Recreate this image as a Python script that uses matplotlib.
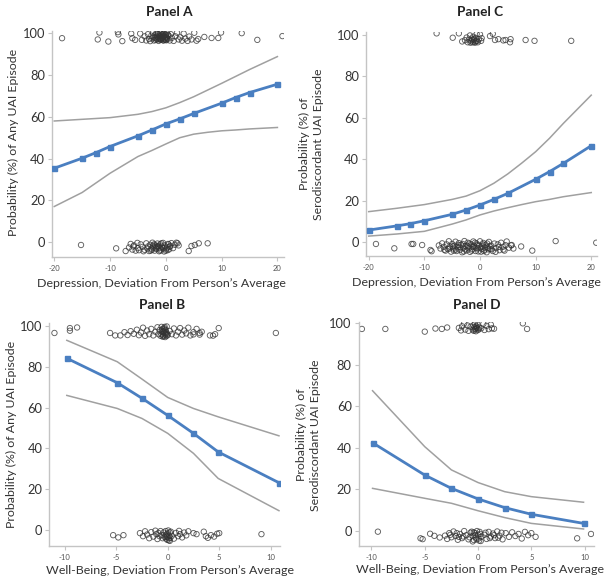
import matplotlib
matplotlib.use("Agg")
import matplotlib.pyplot as plt

plt.rcParams['font.family'] = ['Lato', 'DejaVu Sans']

# ---------------- data ----------------
# Panel A: depression -> any UAI
A_x = [-20, -15, -12.5, -10, -5, -2.5, 0, 2.5, 5, 10, 12.5, 15, 20]
A_y = [35.4, 40.2, 42.9, 45.8, 50.9, 53.7, 56.6, 59.0, 61.6, 66.5, 69.2, 71.6, 75.6]
A_ci_x = [-20, -15, -10, -5, -2.5, 0, 2.5, 5, 7.5, 10, 12.5, 15, 20]
A_up = [58.0, 58.8, 59.6, 61.2, 62.5, 64.3, 66.8, 69.6, 72.8, 76.0, 79.3, 82.6, 88.8]
A_lo = [17.1, 23.8, 33.0, 41.0, 43.9, 47.0, 50.0, 51.7, 52.6, 53.3, 53.7, 54.2, 54.9]

# Panel C: depression -> serodiscordant UAI
C_x = [-20, -15, -12.5, -10, -5, -2.5, 0, 2.5, 5, 10, 12.5, 15, 20]
C_y = [5.9, 7.9, 9.0, 10.4, 13.5, 15.6, 18.0, 20.7, 23.6, 30.4, 34.1, 38.1, 46.6]
C_ci_x = [-20, -15, -10, -5, -2.5, 0, 2.5, 5, 7.5, 10, 12.5, 15, 17.5, 20]
C_up = [14.8, 16.4, 18.2, 20.7, 22.3, 24.9, 28.5, 33.0, 38.2, 43.7, 50.2, 57.4, 64.2, 71.0]
C_lo = [3.0, 4.0, 5.3, 8.8, 10.8, 13.2, 15.1, 16.7, 18.2, 19.6, 20.7, 22.0, 23.0, 24.0]

# Panel B: well-being -> any UAI
B_x = [-9.8, -4.9, -2.5, 0, 2.5, 4.9, 10.8]
B_y = [84.2, 72.2, 64.6, 56.2, 47.4, 38.3, 23.2]
B_up = [93.0, 82.5, 74.0, 65.0, 59.6, 55.5, 46.2]
B_lo = [66.0, 59.6, 54.7, 47.4, 37.6, 25.3, 9.5]

# Panel D: well-being -> serodiscordant UAI
D_x = [-9.9, -5, -2.5, 0, 2.5, 5, 9.9]
D_y = [42.4, 26.8, 20.4, 15.3, 11.1, 7.9, 3.5]
D_up = [67.5, 40.5, 29.3, 23.2, 18.8, 16.4, 13.7]
D_lo = [20.4, 15.6, 13.2, 9.6, 6.3, 3.5, 0.8]

# jittered raw observations (x, y)
A_top = [(-18.6, 97.6), (-12.2, 97.0), (-11.9, 100.3), (-10.3, 96.0), (-8.6, 100.5), (-8.5, 99.4),
         (-7.8, 96.2), (-6.2, 99.8), (-6.0, 97.6), (-5.5, 96.8), (-4.6, 99.8), (-4.3, 96.8),
         (-3.8, 98.5), (-3.5, 96.5), (-3.2, 99.5), (-3.0, 97.2), (-2.8, 96.2), (-2.6, 98.8),
         (-2.4, 97.5), (-2.3, 100.2), (-2.2, 98.2), (-2.1, 96.5), (-2.0, 99.0), (-1.9, 97.8),
         (-1.8, 96.8), (-1.7, 100.0), (-1.6, 98.2), (-1.5, 97.0), (-1.5, 99.8), (-1.4, 99.5),
         (-1.3, 96.3), (-1.2, 98.8), (-1.1, 97.6), (-1.0, 100.3), (-1.0, 97.0), (-0.9, 96.8),
         (-0.8, 99.0), (-0.7, 98.0), (-0.6, 97.2), (-0.6, 98.8), (-0.5, 99.8), (-0.4, 96.5),
         (-0.3, 98.5), (-0.2, 97.5), (-0.1, 99.2), (0.0, 96.8), (0.0, 99.4), (0.1, 98.0),
         (0.2, 100.0), (0.3, 97.2), (0.5, 98.8), (0.7, 96.5), (0.9, 99.5), (1.1, 97.8),
         (1.4, 96.3), (1.7, 98.5), (2.0, 100.2), (2.3, 97.0), (2.6, 98.0), (2.9, 96.4),
         (3.2, 99.8), (3.5, 97.4), (3.9, 96.3), (4.2, 98.4), (4.6, 97.0), (5.1, 100.2),
         (5.5, 96.4), (5.8, 97.2), (-1.4, 98.0), (-1.2, 97.2), (-1.0, 98.6), (-0.8, 97.6),
         (-0.6, 99.5), (-0.4, 98.2), (-0.2, 96.9), (0.0, 98.4), (0.2, 97.6), (0.4, 99.2),
         (-0.9, 99.9), (-0.3, 99.9), (-1.7, 97.4), (-0.5, 96.6), (0.1, 96.6),
         (6.9, 98.2), (8.2, 97.7), (9.4, 97.7), (9.9, 100.3), (13.6, 100.0), (16.4, 96.8), (20.9, 98.6)]

A_bot = [(-15.2, -1.3), (-8.9, -2.9), (-7.2, -4.2),
         (-6.6, -2.5), (-6.3, -0.8), (-6.0, -3.5), (-5.8, -2.0), (-5.7, -1.5), (-5.4, -4.0),
         (-5.1, -0.3), (-5.0, -2.8), (-4.8, -3.8), (-4.5, -1.0), (-4.2, -2.2), (-4.0, -4.3),
         (-3.8, -3.6), (-3.5, -0.5), (-3.3, -3.0), (-3.2, -2.0), (-3.0, -4.2), (-2.8, -1.2),
         (-2.7, -4.0), (-2.6, -3.0), (-2.4, -0.2), (-2.2, -2.5), (-2.1, -1.0), (-2.0, -4.0),
         (-1.9, -1.5), (-1.7, -3.2), (-1.6, -2.0), (-1.5, -0.6), (-1.4, -2.2), (-1.2, -4.3),
         (-1.1, -2.7), (-1.0, -1.0), (-0.9, -3.5), (-0.8, -0.5), (-0.7, -2.0), (-0.5, -0.3),
         (-0.4, -3.0), (-0.3, -4.4), (-0.2, -1.5), (0.0, -4.0), (0.1, -3.0), (0.2, -2.4),
         (0.4, -0.8), (0.5, -1.0), (0.6, -3.4), (0.8, -1.8), (1.0, -0.4), (1.3, -2.8),
         (1.6, -1.2), (1.9, -0.2), (2.1, -0.5), (2.3, -1.5), (-2.5, -3.6), (-1.8, -2.6),
         (-1.3, -1.8), (-0.6, -2.6), (0.3, -3.8), (-2.3, -1.6), (-1.0, -4.0), (0.7, -2.2),
         (4.1, -4.2), (4.6, -1.8), (5.2, -1.3), (5.9, -0.5), (7.5, -0.5)]

C_top = [(-7.8, 100.8), (-4.9, 98.7), (-3.8, 100.8), (-3.2, 96.9),
         (-2.7, 97.5), (-2.4, 98.8), (-2.2, 96.5), (-2.0, 97.8), (-1.8, 99.8), (-1.7, 96.3),
         (-1.6, 97.0), (-1.5, 98.3), (-1.3, 96.5), (-1.2, 99.2), (-1.1, 98.0), (-1.0, 97.6),
         (-0.9, 96.3), (-0.8, 98.6), (-0.7, 97.0), (-0.6, 100.5), (-0.5, 97.2), (-0.4, 96.5),
         (-0.2, 98.0), (0.0, 100.3), (0.2, 97.2), (0.3, 98.5), (-1.4, 97.6), (-1.0, 96.8),
         (1.8, 99.5), (2.3, 100.6), (2.7, 97.6), (3.3, 98.0), (4.2, 97.4), (4.6, 97.6),
         (5.4, 96.5), (5.5, 98.0), (8.2, 97.6), (9.8, 97.2), (16.4, 97.2)]

C_bot = [(-18.7, -0.8), (-15.4, -2.9), (-12.3, -0.8), (-12.0, -0.8), (-10.4, -1.3),
         (-8.9, -3.7), (-8.7, -4.3),
         (-7.4, -1.5), (-7.1, -3.0), (-6.8, -0.5), (-6.5, -2.2), (-6.2, -4.0), (-6.0, -1.0),
         (-5.8, -3.2), (-5.6, 0.5), (-5.4, -2.0), (-5.2, -4.5), (-5.0, -0.8), (-4.8, -3.0),
         (-4.6, -1.6), (-4.4, 0.3), (-4.2, -4.2), (-4.0, -2.4), (-3.8, -0.4), (-3.6, -3.6),
         (-3.4, -1.2), (-3.2, -4.8), (-3.0, -2.6), (-2.8, 0.6), (-2.6, -1.8), (-2.4, -3.9),
         (-2.2, -0.2), (-2.0, -2.9), (-1.8, -4.6), (-1.6, -1.0), (-1.4, -3.3), (-1.2, 0.4),
         (-1.0, -2.2), (-0.8, -4.2), (-0.6, -0.6), (-0.4, -3.0), (-0.2, -1.5), (0.0, 0.5),
         (0.2, -4.5), (0.4, -2.0), (0.6, -0.3), (0.8, -3.6), (1.0, -1.2), (1.2, -4.8),
         (1.4, -2.6), (1.6, 0.2), (1.8, -3.2), (2.0, -1.6), (2.3, -4.2), (2.6, -0.6),
         (2.9, -2.8), (3.2, -1.0), (3.5, -3.8), (3.8, -0.2), (4.1, -2.2), (4.4, -4.0),
         (4.8, 0.4), (5.2, -2.6), (5.6, -1.5), (6.0, -3.0),
         (-5.5, -3.0), (-4.9, -2.0), (-4.3, -3.5), (-3.7, -2.2), (-3.1, -0.8), (-2.7, -3.4),
         (-2.3, -1.6), (-1.9, -0.6), (-1.5, -4.0), (-1.1, -1.6), (-0.7, -2.8), (-0.3, -4.4),
         (0.1, -2.6), (0.5, -1.0), (0.9, -2.4), (1.3, -0.6), (1.7, -1.8), (2.1, -3.4),
         (-2.9, -4.4), (-1.3, -2.2), (-0.5, -1.4), (0.3, -3.2), (-3.9, -1.2), (-4.7, -4.0),
         (-2.1, -2.0), (-0.9, -0.2), (0.7, -4.2), (1.5, -3.4), (-6.4, -3.6), (2.8, -4.6),
         (3.4, -2.2), (4.6, -1.4),
         (4.2, -3.5), (5.7, -1.3), (7.4, -2.0), (9.4, -4.0), (13.6, 0.6), (20.9, -0.2)]

B_top = [(-11.0, 96.6), (-9.5, 99.0), (-9.5, 97.7), (-8.8, 99.3), (-5.6, 96.6), (-5.1, 95.4),
         (-4.6, 95.4),
         (-4.2, 97.0), (-3.9, 95.6), (-3.6, 97.5), (-3.3, 96.2), (-3.0, 98.2), (-2.8, 95.5),
         (-2.6, 96.8), (-2.4, 99.2), (-2.2, 95.2), (-2.0, 97.8), (-1.8, 96.0), (-1.6, 98.6),
         (-1.4, 95.4), (-1.2, 97.2), (-1.0, 99.4), (-0.9, 96.0), (-0.8, 98.0), (-0.7, 95.2),
         (-0.6, 99.6), (-0.5, 97.0), (-0.4, 95.0), (-0.3, 98.4), (-0.2, 96.4), (-0.1, 99.8),
         (0.0, 95.6), (0.2, 97.6), (0.4, 96.0), (0.6, 98.8), (0.8, 95.4), (1.0, 97.2),
         (1.2, 99.0), (1.4, 95.8), (1.6, 97.8), (1.8, 96.4), (2.0, 99.2), (2.2, 95.4),
         (2.5, 97.0), (2.8, 98.6), (3.1, 95.8), (3.3, 97.2),
         (-0.6, 96.0), (-0.5, 98.5), (-0.45, 95.5), (-0.4, 97.5), (-0.35, 99.0), (-0.3, 96.5),
         (-0.25, 94.6), (-0.2, 98.0), (-0.15, 97.0), (-0.1, 95.2), (-0.3, 99.6), (-0.5, 94.8),
         (-0.05, 96.2), (-0.4, 96.8), (-0.2, 95.8), (-0.55, 97.8),
         (2.5, 95.9), (3.1, 96.6), (4.1, 95.4), (4.4, 95.3), (4.6, 96.0), (4.95, 99.0), (10.5, 96.6)]

B_bot = [(-5.3, -2.5), (-4.8, -3.6), (-4.3, -2.5),
         (-2.7, -1.5), (-2.4, -3.0), (-2.2, -0.6), (-2.0, -2.2), (-1.8, -4.0), (-1.6, -1.0),
         (-1.4, -3.2), (-1.2, -0.3), (-1.1, -2.0), (-1.0, -4.4), (-0.9, -1.4), (-0.8, -3.0),
         (-0.7, -0.5), (-0.6, -2.4), (-0.5, -4.0), (-0.4, -1.2), (-0.3, -3.4), (0.3, -0.8),
         (0.4, -2.8), (0.6, -4.2), (0.8, -1.4), (1.0, -3.0), (1.1, -0.4), (1.2, -2.0),
         (1.4, -3.6), (1.6, -1.2), (1.8, -2.6), (2.0, -0.6),
         (-0.2, -0.5), (-0.1, -2.0), (0.0, -3.5), (0.1, -5.0), (0.2, -1.2), (-0.15, -4.2),
         (0.05, -0.2), (0.15, -2.8), (-0.05, -4.8), (0.25, -3.8), (-0.2, -2.6), (0.0, -1.5),
         (0.1, -4.0), (-0.1, -3.2), (0.2, -5.3),
         (2.5, -1.5), (2.8, -2.0), (3.5, -0.8), (3.7, -3.0), (3.9, -3.8), (4.2, -2.5),
         (4.5, -3.2), (4.8, -1.8), (5.0, -1.5), (9.1, -2.0)]

D_top = [(-10.9, 97.3), (-8.7, 97.3), (-5.0, 96.0), (-4.0, 97.5), (-3.4, 97.3), (-2.9, 98.0),
         (-1.8, 97.8), (-1.6, 96.6), (-1.5, 98.6), (-1.3, 100.0), (-1.2, 97.0), (-1.0, 99.0),
         (-0.9, 96.4), (-0.7, 98.4), (0.3, 97.6), (0.5, 99.8), (0.6, 96.8), (0.8, 98.8),
         (1.0, 97.2), (1.2, 99.4), (1.3, 97.6), (1.5, 97.4),
         (-0.5, 97.0), (-0.45, 99.0), (-0.4, 96.4), (-0.35, 98.2), (-0.3, 99.8), (-0.25, 97.4),
         (-0.2, 96.2), (-0.15, 98.6), (-0.1, 97.8), (-0.05, 99.4), (0.0, 96.8), (0.1, 98.0),
         (-0.3, 97.0), (-0.2, 98.0), (0.05, 97.2),
         (4.2, 100.0), (4.6, 97.3)]

D_bot = [(-9.4, -0.5), (-5.4, -3.7), (-5.2, -4.1), (-4.5, -1.5), (-4.1, -2.5), (-3.6, -3.3),
         (-3.1, -2.4), (-2.9, -4.0), (-2.7, -1.2), (-2.5, -3.2), (-2.3, -0.4), (-2.1, -2.6),
         (-1.9, -4.4), (-1.7, -1.6), (-1.5, -3.6), (-1.3, -0.2), (-1.1, -2.2), (-0.9, -4.2),
         (-0.7, -1.0), (0.6, -2.0), (0.8, -4.0), (1.0, -0.6), (1.2, -2.8), (1.4, -1.4),
         (1.6, -3.6), (1.8, -0.4), (2.0, -2.4), (2.3, -4.2), (2.6, -1.2), (2.9, -3.0),
         (3.2, -0.8), (3.5, -2.6), (3.8, -1.6), (4.1, -3.8), (4.4, -0.6), (4.7, -2.2),
         (5.0, -1.2), (5.4, -3.0),
         (-2.6, -2.0), (-2.0, -1.2), (-1.4, -2.8), (-0.8, -3.2), (0.7, -1.0), (1.1, -3.6),
         (1.5, -2.2), (2.2, -1.0), (-1.8, -3.0), (1.9, -3.4),
         (-0.6, -0.5), (-0.5, -2.5), (-0.4, -4.5), (-0.3, -1.2), (-0.2, -3.4), (-0.1, -0.2),
         (0.0, -2.0), (0.1, -4.8), (0.2, -1.6), (0.3, -3.0), (-0.5, -5.2), (-0.25, -2.2),
         (0.05, -3.8), (-0.4, -0.8), (0.15, -0.6), (-0.15, -4.2), (0.25, -5.0),
         (9.3, -3.7), (10.6, -1.6)]

y_ticks = [0, 20, 40, 60, 80, 100]
dep_ticks = [-20, -10, 0, 10, 20]
wb_ticks = [-10, -5, 0, 5, 10]

dep_label = "Depression, Deviation From Person\u2019s Average"
wb_label = "Well-Being, Deviation From Person\u2019s Average"
any_label = "Probability (%) of Any UAI Episode"
sero_label = "Probability (%) of\nSerodiscordant UAI Episode"

BLUE = '#4a7fc1'
GRAY = '#a0a0a0'
SPINE = '#c4c4c4'

fig = plt.figure(figsize=(6.14, 5.83), dpi=100)

panels = [
    dict(rect=[0.0847, 0.5597, 0.378, 0.3877], title="Panel A", title_pos=(0.504, 1.083),
         x=A_x, y=A_y, cix=A_ci_x, up=A_up, lo=A_lo, top=A_top, bot=A_bot,
         xlim=(-20.4, 21.2), ylim=(-6.9, 101.2), xticks=dep_ticks,
         xlabel=dep_label, xl_pos=(0.472, -0.118), ylabel=any_label, yl_pos=(-0.168, 0.505)),
    dict(rect=[0.596, 0.5609, 0.376, 0.3847], title="Panel C", title_pos=(0.495, 1.088),
         x=C_x, y=C_y, cix=C_ci_x, up=C_up, lo=C_lo, top=C_top, bot=C_bot,
         xlim=(-20.5, 21.0), ylim=(-6.6, 101.6), xticks=dep_ticks,
         xlabel=dep_label, xl_pos=(0.48, -0.12), ylabel=sero_label, yl_pos=(-0.236, 0.5)),
    dict(rect=[0.0803, 0.0635, 0.3757, 0.3825], title="Panel B", title_pos=(0.49, 1.081),
         x=B_x, y=B_y, cix=B_x, up=B_up, lo=B_lo, top=B_top, bot=B_bot,
         xlim=(-11.5, 10.9), ylim=(-7.8, 101.5), xticks=wb_ticks,
         xlabel=wb_label, xl_pos=(0.523, -0.112), ylabel=any_label, yl_pos=(-0.162, 0.5)),
    dict(rect=[0.5842, 0.0635, 0.3827, 0.3847], title="Panel D", title_pos=(0.503, 1.074),
         x=D_x, y=D_y, cix=D_x, up=D_up, lo=D_lo, top=D_top, bot=D_bot,
         xlim=(-11.2, 10.85), ylim=(-7.4, 100.8), xticks=wb_ticks,
         xlabel=wb_label, xl_pos=(0.517, -0.107), ylabel=sero_label, yl_pos=(-0.214, 0.495)),
]

for p in panels:
    ax = fig.add_axes(p['rect'])
    pts = p['top'] + p['bot']
    ax.scatter([q[0] for q in pts], [q[1] for q in pts], s=15, facecolors='none',
               edgecolors='#333333', linewidths=0.65, alpha=0.78, zorder=1)
    ax.plot(p['cix'], p['up'], color=GRAY, lw=1.1, zorder=2)
    ax.plot(p['cix'], p['lo'], color=GRAY, lw=1.1, zorder=2)
    ax.plot(p['x'], p['y'], color=BLUE, lw=2.0, marker='s', markersize=3.6,
            markeredgecolor=BLUE, zorder=3)
    ax.set_xlim(*p['xlim'])
    ax.set_ylim(*p['ylim'])
    ax.set_xticks(p['xticks'])
    ax.set_yticks(y_ticks)
    ax.set_xticklabels([str(t) for t in p['xticks']])
    ax.set_yticklabels([str(t) for t in y_ticks])
    for s in ['top', 'right']:
        ax.spines[s].set_visible(False)
    for s in ['left', 'bottom']:
        ax.spines[s].set_color(SPINE)
        ax.spines[s].set_linewidth(1.0)
    ax.tick_params(axis='y', labelsize=9.3, labelcolor='#333333', color=SPINE,
                   length=3, width=0.8, pad=2)
    ax.tick_params(axis='x', labelsize=5.5, labelcolor='#555555', color=SPINE,
                   length=3, width=0.8, pad=3)
    ax.text(p['title_pos'][0], p['title_pos'][1], p['title'], transform=ax.transAxes,
            ha='center', va='center', fontsize=9.8, fontweight='bold', color='#222222')
    ax.set_xlabel(p['xlabel'], fontsize=8.9, color='#333333')
    ax.xaxis.set_label_coords(*p['xl_pos'])
    ax.xaxis.label.set_va('center')
    ax.set_ylabel(p['ylabel'], fontsize=8.9, color='#333333', linespacing=1.25)
    ax.yaxis.set_label_coords(*p['yl_pos'])
    ax.yaxis.label.set_va('center')

fig.savefig('out.png', dpi=100)
